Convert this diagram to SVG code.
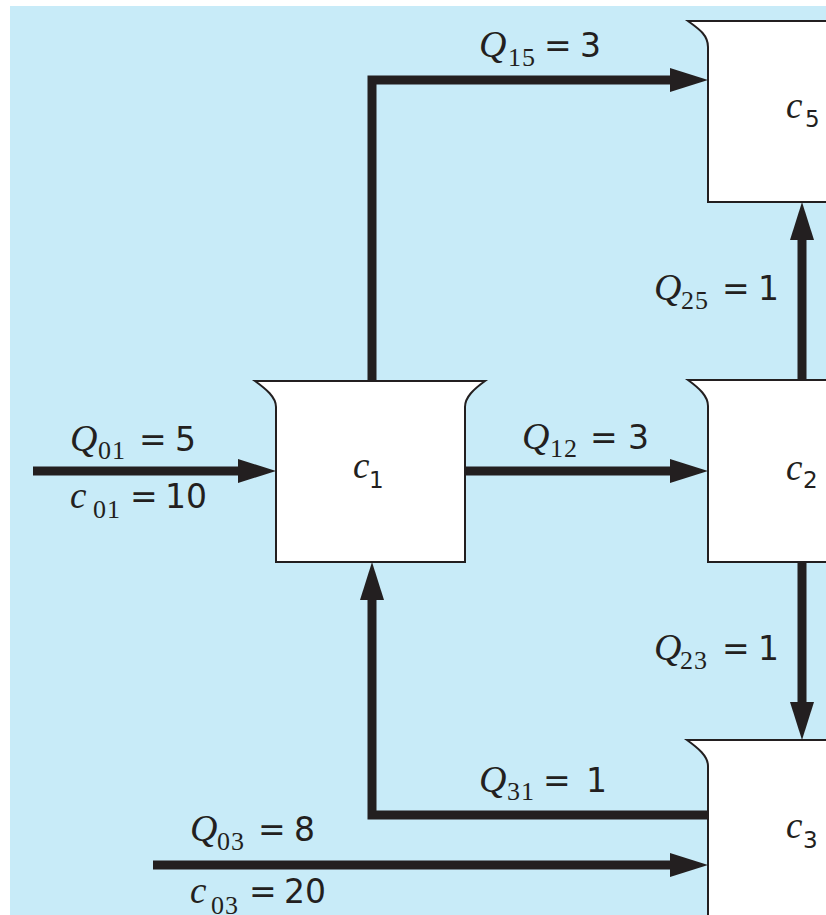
<svg xmlns="http://www.w3.org/2000/svg" width="826" height="915" viewBox="0 0 826 915">
<style>
.tank{fill:#ffffff;stroke:#231f20;stroke-width:2;stroke-linejoin:miter}
.flow{fill:none;stroke:#231f20;stroke-width:9;stroke-linejoin:miter;stroke-linecap:butt;marker-end:url(#ah)}
.lbl{fill:#231f20}
.q{font-family:"Liberation Serif",serif;font-style:italic;font-size:38px}
.s{font-family:"Liberation Serif",serif;font-size:26px;letter-spacing:1px}
.e{font-family:"DejaVu Sans","Liberation Sans",sans-serif;font-size:33px}
.cv{font-family:"Liberation Serif",serif;font-style:italic;font-size:37px}
.cs{font-family:"DejaVu Sans","Liberation Sans",sans-serif;font-size:23px}
</style>
<defs>
<marker id="ah" markerUnits="userSpaceOnUse" markerWidth="40" markerHeight="26" refX="18" refY="12" orient="auto" viewBox="0 0 40 26">
<path d="M0,0 L38,12 L0,24 Z" fill="#231f20"/>
</marker>
</defs>
<rect x="0" y="0" width="826" height="915" fill="#ffffff"/>
<rect x="10" y="6" width="830" height="920" fill="#c8ebf8"/>

<g id="c5">
<path class="tank" d="M688,21 H840 V202 H708 V47 C708,35 699,29 688,21 Z"/>
<text class="lbl"><tspan class="cv" x="786" y="118">c</tspan><tspan class="cs" x="805" y="127">5</tspan></text>
</g>
<g id="c1">
<path class="tank" d="M255,381 H485 C474,389 465,397 465,407 V562 H276 V407 C276,397 266,389 255,381 Z"/>
<text class="lbl"><tspan class="cv" x="353" y="478">c</tspan><tspan class="cs" x="369" y="488">1</tspan></text>
</g>
<g id="c2">
<path class="tank" d="M688,380 H840 V562 H708 V406 C708,396 699,388 688,380 Z"/>
<text class="lbl"><tspan class="cv" x="786" y="480">c</tspan><tspan class="cs" x="803" y="488">2</tspan></text>
</g>
<g id="c3">
<path class="tank" d="M687,740 H840 V930 H708 V766 C708,756 698,748 687,740 Z"/>
<text class="lbl"><tspan class="cv" x="786" y="838">c</tspan><tspan class="cs" x="803" y="848">3</tspan></text>
</g>

<g id="connectors">
<path class="flow" d="M33,471 H256"/>
<path class="flow" d="M465,471 H688"/>
<path class="flow" d="M372,381 V80 H688"/>
<path class="flow" d="M802,380 V222"/>
<path class="flow" d="M802,562 V720"/>
<path class="flow" d="M708,815 H372 V582"/>
<path class="flow" d="M153,865 H688"/>
</g>

<g id="labels" class="lbl">
<text><tspan class="q" x="70" y="451">Q</tspan><tspan class="s" x="98" y="459">01</tspan><tspan class="e" x="139" y="451">=</tspan><tspan class="e" x="175" y="451">5</tspan></text>
<text><tspan class="cv" x="70" y="508">c</tspan><tspan class="s" x="93" y="518">01</tspan><tspan class="e" x="130" y="508">=</tspan><tspan class="e" x="165" y="508">10</tspan></text>
<text><tspan class="q" x="479" y="57">Q</tspan><tspan class="s" x="508" y="66">15</tspan><tspan class="e" x="544" y="57">=</tspan><tspan class="e" x="580" y="57">3</tspan></text>
<text><tspan class="q" x="522" y="449">Q</tspan><tspan class="s" x="550" y="457">12</tspan><tspan class="e" x="590" y="449">=</tspan><tspan class="e" x="628" y="449">3</tspan></text>
<text><tspan class="q" x="654" y="300">Q</tspan><tspan class="s" x="681" y="309">25</tspan><tspan class="e" x="722" y="300">=</tspan><tspan class="e" x="758" y="300">1</tspan></text>
<text><tspan class="q" x="654" y="660">Q</tspan><tspan class="s" x="680" y="669">23</tspan><tspan class="e" x="722" y="660">=</tspan><tspan class="e" x="758" y="660">1</tspan></text>
<text><tspan class="q" x="479" y="792">Q</tspan><tspan class="s" x="507" y="800">31</tspan><tspan class="e" x="543" y="792">=</tspan><tspan class="e" x="586" y="792">1</tspan></text>
<text><tspan class="q" x="190" y="841">Q</tspan><tspan class="s" x="217" y="850">03</tspan><tspan class="e" x="258" y="841">=</tspan><tspan class="e" x="294" y="841">8</tspan></text>
<text><tspan class="cv" x="190" y="903">c</tspan><tspan class="s" x="211" y="914">03</tspan><tspan class="e" x="249" y="903">=</tspan><tspan class="e" x="284" y="903">20</tspan></text>
</g>
</svg>
